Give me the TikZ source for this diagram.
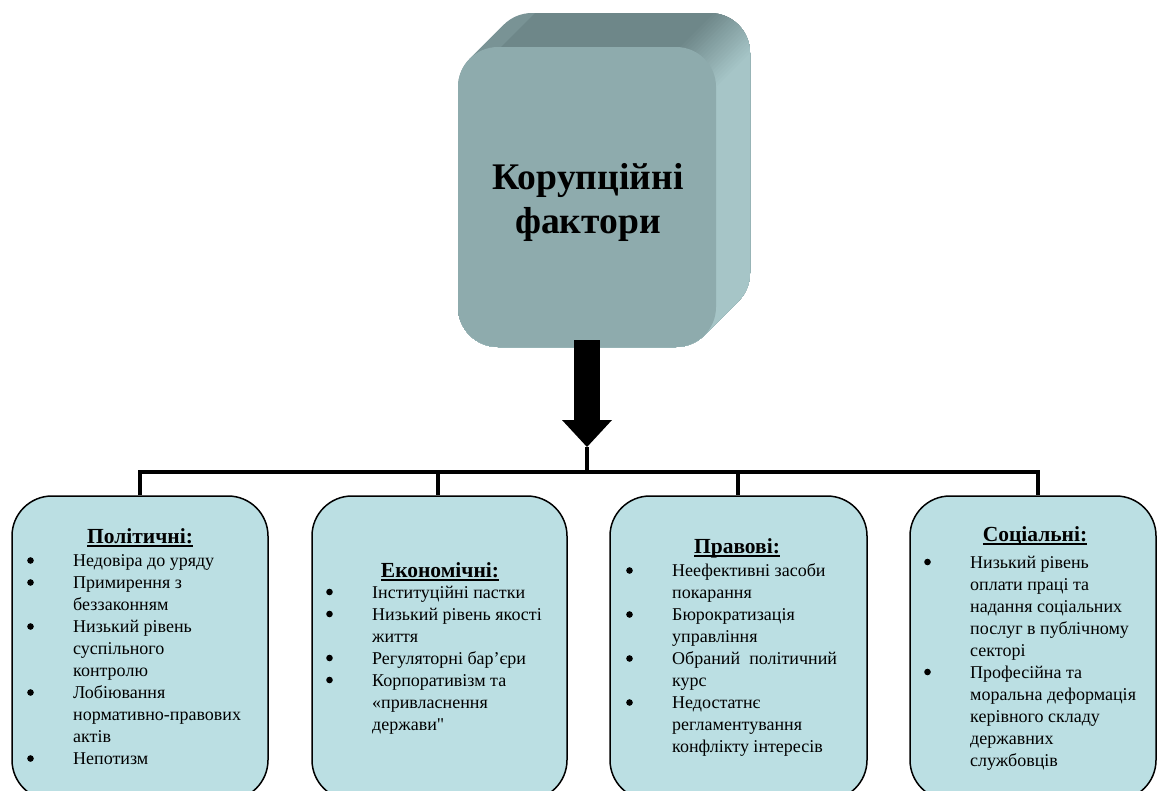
\documentclass[tikz,border=0pt]{standalone}
\usepackage{fontspec}
\setmainfont{Liberation Serif}[Ligatures=TeXOff]
\usetikzlibrary{calc}

\definecolor{boxfill}{RGB}{187,223,227}
\definecolor{frontface}{RGB}{142,171,173}
\definecolor{topdark}{RGB}{110,135,137}
\definecolor{sidelight}{RGB}{166,197,199}

% bold heading with a rule drawn just under the baseline
\newcommand\hdul[1]{\setbox0=\hbox{#1}\rlap{\rule[-4pt]{\wd0}{1.8pt}}\box0}
% round list marker, centred 6pt above the baseline
\newcommand\dotmark{\tikz[x=1pt,y=1pt,baseline={(0pt,-6pt)}]\fill[black] (3.3pt,0pt) circle[radius=3.3pt];}

\begin{document}
\begin{tikzpicture}[x=1pt,y=-1pt,
  factorbox/.style={draw=black, line width=1.5pt, fill=boxfill,
    rounded corners=40pt, minimum height=304pt, inner sep=0pt},
  heading/.style={font=\fontsize{21.5}{24}\selectfont\bfseries, anchor=base, inner sep=0pt},
  itemlist/.style={font=\fontsize{18}{22}\selectfont, anchor=base west, inner sep=0pt},
  bus/.style={line width=4.5pt, line join=miter},
  face/.style={fill=frontface, rounded corners=40pt, inner sep=0pt}
]
\useasboundingbox (0,0) rectangle (1158,790);

% ---- extruded title block: silhouette of the swept rounded rectangle
\begin{scope}
  \clip (458,307) -- (458,87) arc[start angle=180,end angle=225,radius=40]
    -- ++(34,-34) arc[start angle=225,end angle=270,radius=40]
    -- (710,13) arc[start angle=270,end angle=360,radius=40]
    -- (750,273) arc[start angle=0,end angle=45,radius=40]
    -- ++(-34,34) arc[start angle=45,end angle=90,radius=40]
    -- (498,347) arc[start angle=90,end angle=180,radius=40] -- cycle;
  \fill[topdark!80!sidelight] (400,0) rectangle (800,400);
  \fill[topdark] (548,0) -- (1200,0) -- (1200,800) -- (-252,800) -- cycle;
  \foreach \k in {0,...,20}{
    \pgfmathsetmacro\u{723+4*\k}
    \pgfmathsetmacro\pct{100-5*\k}
    \fill[topdark!\pct!sidelight] (\u,0) -- (1200,0) -- (1200,800) -- (\u-800,800) -- cycle;
  }
\end{scope}

% front face and title
\node[face, minimum width=258pt, minimum height=300pt] (core) at (587,197) {};
\node[font=\fontsize{37.6}{44}\selectfont\bfseries, anchor=base, inner sep=0pt] (title) at (588,189)
  {\begin{tabular}[t]{@{}c@{}}Корупційні\\фактори\end{tabular}};

% ---- factor boxes
\node[factorbox, minimum width=256pt] (b1) at (140,648) {};
\node[factorbox, minimum width=255pt] (b2) at (439.5,648) {};
\node[factorbox, minimum width=257pt] (b3) at (738.5,648) {};
\node[factorbox, minimum width=246pt] (b4) at (1033,648) {};

% ---- arrow and distribution bus
\coordinate (shaftend) at (587,420);
\coordinate (tip) at (587,447);
\coordinate (hub) at (587,472);
\coordinate (j1) at (140,472);
\coordinate (j2) at (438,472);
\coordinate (j3) at (738,472);
\coordinate (j4) at (1038,472);

\draw[line width=26pt] ([yshift=7pt]core.south) -- (shaftend);
\fill (tip) -- ++(-25,-27) -- ++(50,0) -- cycle;
\draw[bus] (tip) -- (hub);
\draw[bus] (j1 |- b1.north) -- (j1) -- (j4) -- (j4 |- b4.north);
\draw[bus] (j2) -- (j2 |- b2.north);
\draw[bus] (j3) -- (j3 |- b3.north);

% ---- headings
\node[heading] (h1) at (140,543) {\hdul{Політичні:}};
\node[heading] (h2) at (440,577) {\hdul{Економічні:}};
\node[heading] (h3) at (737,553) {\hdul{Правові:}};
\node[heading] (h4) at (1035,541) {\hdul{Соціальні:}};

% ---- bullet lists
\node[itemlist] (l1) at (27,566.5) {\begin{tabular}[t]{@{}p{46pt}@{}l@{}}
\dotmark & Недовіра до уряду\\
\dotmark & Примирення з\\
 & беззаконням\\
\dotmark & Низький рівень\\
 & суспільного\\
 & контролю\\
\dotmark & Лобіювання\\
 & нормативно-правових\\
 & актів\\
\dotmark & Непотизм
\end{tabular}};

\node[itemlist] (l2) at (326,598) {\begin{tabular}[t]{@{}p{46pt}@{}l@{}}
\dotmark & Інституційні пастки\\
\dotmark & Низький рівень якості\\
 & життя\\
\dotmark & Регуляторні бар’єри\\
\dotmark & Корпоративізм та\\
 & «привласнення\\
 & держави"
\end{tabular}};

\node[itemlist] (l3) at (626,576.5) {\begin{tabular}[t]{@{}p{46pt}@{}l@{}}
\dotmark & Неефективні засоби\\
 & покарання\\
\dotmark & Бюрократизація\\
 & управління\\
\dotmark & Обраний\ \ політичний\\
 & курс\\
\dotmark & Недостатнє\\
 & регламентування\\
 & конфлікту інтересів
\end{tabular}};

\node[itemlist] (l4) at (924,568) {\begin{tabular}[t]{@{}p{46pt}@{}l@{}}
\dotmark & Низький рівень\\
 & оплати праці та\\
 & надання соціальних\\
 & послуг в публічному\\
 & секторі\\
\dotmark & Професійна та\\
 & моральна деформація\\
 & керівного складу\\
 & державних\\
 & службовців
\end{tabular}};
\end{tikzpicture}
\end{document}
